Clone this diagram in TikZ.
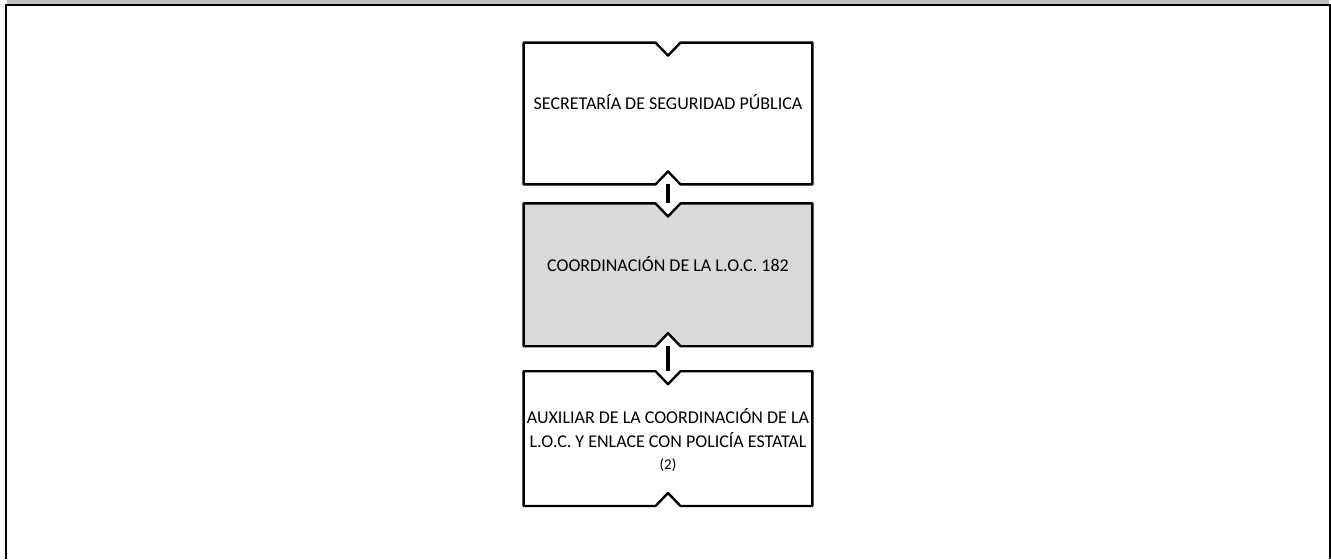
\documentclass[tikz,border=0pt]{standalone}
\usepackage{fontspec}
\setmainfont{Carlito}
\usetikzlibrary{positioning}
\newcommand{\notchBox}[2][]{%
  \draw[box line,#1] (#2.north west) -- ([xshift=-6.25pt]#2.north)
    -- ([yshift=-6.5pt]#2.north) -- ([xshift=6.25pt]#2.north)
    -- (#2.north east) -- (#2.south east) -- ([xshift=6.25pt]#2.south)
    -- ([yshift=6.5pt]#2.south) -- ([xshift=-6.25pt]#2.south)
    -- (#2.south west) -- cycle;}

\begin{document}
\begin{tikzpicture}[x=0.5pt, y=-0.5pt]
  \tikzset{
    unit box/.style={minimum width=144pt, inner sep=0pt},
    box line/.style={line width=1.2pt, line join=round},
    link/.style={line width=1.8pt},
    unit text/.style={font=\fontsize{9}{12}\selectfont, align=center, inner sep=0pt}
  }
  \useasboundingbox (0,0) rectangle (1331,559);
  % frame of the page
  \fill[black!25] (7,0) rectangle (1329,4);
  \draw[line width=1pt] (6,559) -- (6,5) -- (1330,5) -- (1330,559);
  % boxes
  \node[unit box, minimum height=70.5pt] (b1) at (668,113.5) {};
  \node[unit box, minimum height=71pt, below=9.5pt of b1] (b2) {};
  \node[unit box, minimum height=67pt, below=12.5pt of b2] (b3) {};
  \notchBox{b1}
  \notchBox[fill=black!15]{b2}
  \notchBox{b3}
  \draw[link] (b1.south) -- (b2.north);
  \draw[link] (b2.south) -- (b3.north);
  % texts
  \node[unit text] (t1) at ([yshift=5.5pt]b1.center) {SECRETARÍA DE SEGURIDAD PÚBLICA};
  \node[unit text] (t2) at ([yshift=5.25pt]b2.center) {COORDINACIÓN DE LA L.O.C. 182};
  \node[unit text] (t3) at ([yshift=-0.5pt]b3.center)
    {AUXILIAR DE LA COORDINACIÓN DE LA\\L.O.C. Y ENLACE CON POLICÍA ESTATAL\\[-1pt]{\fontsize{7.5}{8}\selectfont (2)}};
\end{tikzpicture}
\end{document}
